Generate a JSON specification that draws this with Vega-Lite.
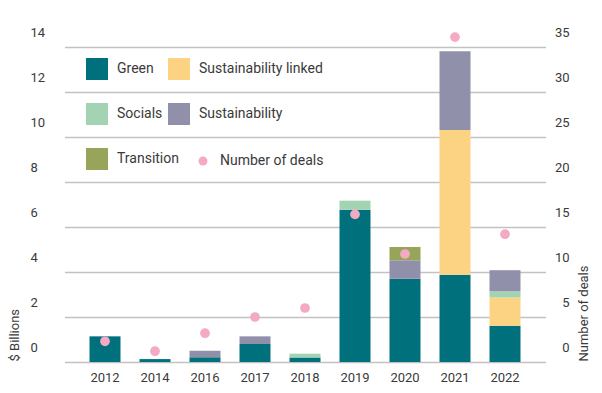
{
  "$schema": "https://vega.github.io/schema/vega-lite/v6.json",
  "autosize": {"type": "none"},
  "width": 541,
  "height": 315,
  "padding": {"left": 27, "top": 47, "right": 34, "bottom": 31},
  "background": "white",
  "config": {
    "view": {"stroke": null},
    "font": "Roboto",
    "axis": {"labelColor": "#3a3a3a", "titleColor": "#3a3a3a", "labelFont": "Roboto", "titleFont": "Roboto", "titleFontWeight": "normal"},
    "legend": {"labelColor": "#3a3a3a", "labelFont": "Roboto"}
  },
  "datasets": {
    "issuance": [
      {"year": "2012", "series": "Green", "k": 1, "value": 1.14},
      {"year": "2014", "series": "Green", "k": 1, "value": 0.13},
      {"year": "2016", "series": "Green", "k": 1, "value": 0.21},
      {"year": "2016", "series": "Sustainability", "k": 4, "value": 0.29},
      {"year": "2017", "series": "Green", "k": 1, "value": 0.8},
      {"year": "2017", "series": "Sustainability", "k": 4, "value": 0.34},
      {"year": "2018", "series": "Green", "k": 1, "value": 0.2},
      {"year": "2018", "series": "Socials", "k": 3, "value": 0.17},
      {"year": "2019", "series": "Green", "k": 1, "value": 6.77},
      {"year": "2019", "series": "Socials", "k": 3, "value": 0.4},
      {"year": "2020", "series": "Green", "k": 1, "value": 3.7},
      {"year": "2020", "series": "Sustainability", "k": 4, "value": 0.82},
      {"year": "2020", "series": "Transition", "k": 5, "value": 0.59},
      {"year": "2021", "series": "Green", "k": 1, "value": 3.88},
      {"year": "2021", "series": "Sustainability linked", "k": 2, "value": 6.43},
      {"year": "2021", "series": "Sustainability", "k": 4, "value": 3.5},
      {"year": "2022", "series": "Green", "k": 1, "value": 1.61},
      {"year": "2022", "series": "Sustainability linked", "k": 2, "value": 1.26},
      {"year": "2022", "series": "Socials", "k": 3, "value": 0.27},
      {"year": "2022", "series": "Sustainability", "k": 4, "value": 0.94}
    ],
    "deals": [
      {"year": "2012", "series": "Number of deals", "deals": 2.3},
      {"year": "2014", "series": "Number of deals", "deals": 1.2},
      {"year": "2016", "series": "Number of deals", "deals": 3.2},
      {"year": "2017", "series": "Number of deals", "deals": 5.0},
      {"year": "2018", "series": "Number of deals", "deals": 6.0},
      {"year": "2019", "series": "Number of deals", "deals": 16.4},
      {"year": "2020", "series": "Number of deals", "deals": 12.0},
      {"year": "2021", "series": "Number of deals", "deals": 36.1},
      {"year": "2022", "series": "Number of deals", "deals": 14.2}
    ]
  },
  "encoding": {
    "x": {
      "field": "year",
      "type": "ordinal",
      "scale": {"range": [37.5, 518.5], "paddingInner": 0.38, "paddingOuter": 0.5, "align": 0.5},
      "axis": {"title": null, "domain": false, "ticks": false, "labelAngle": 0, "labelFontSize": 13, "labelPadding": 9}
    }
  },
  "layer": [
    {
      "data": {"name": "issuance"},
      "mark": {"type": "bar", "strokeWidth": 0},
      "encoding": {
        "y": {
          "field": "value",
          "type": "quantitative",
          "stack": "zero",
          "scale": {"domain": [0, 14], "nice": false},
          "axis": {
            "title": "$ Billions",
            "titleFontSize": 13,
            "titleAngle": -90,
            "titleX": -13,
            "titleY": 314,
            "titleAlign": "left",
            "titleBaseline": "middle",
            "values": [0, 2, 4, 6, 8, 10, 12, 14],
            "domain": false,
            "ticks": false,
            "tickSize": 0,
            "labelAlign": "left",
            "labelPadding": -3,
            "labelBaseline": "middle",
            "labelOffset": -15,
            "labelFontSize": 13,
            "labelOverlap": false,
            "grid": true,
            "gridColor": "#c2c2c2",
            "gridWidth": 1.5
          }
        },
        "fill": {
          "field": "series",
          "type": "nominal",
          "scale": {
            "domain": ["Green", "Socials", "Sustainability linked", "Sustainability", "Transition"],
            "range": ["#00707c", "#a2d3b3", "#fcd283", "#9090aa", "#96a559"]
          },
          "legend": {
            "title": null,
            "values": ["Green", "Socials", "Sustainability linked", "Sustainability"],
            "orient": "none",
            "legendX": 59,
            "legendY": 11,
            "columns": 2,
            "gridAlign": "each",
            "columnPadding": 5,
            "rowPadding": 23,
            "padding": 0,
            "symbolType": "square",
            "symbolSize": 484,
            "symbolStrokeWidth": 0,
            "labelOffset": 9,
            "labelFontSize": 14
          }
        },
        "stroke": {
          "field": "series",
          "type": "nominal",
          "scale": {"domain": ["Transition"], "range": ["#96a559"]},
          "legend": {
            "title": null,
            "values": ["Transition"],
            "orient": "none",
            "legendX": 59,
            "legendY": 101,
            "padding": 0,
            "symbolType": "square",
            "symbolSize": 484,
            "symbolFillColor": "#96a559",
            "symbolStrokeWidth": 0,
            "labelOffset": 9,
            "labelFontSize": 14
          }
        },
        "order": {"field": "k", "type": "quantitative", "sort": "ascending"}
      }
    },
    {
      "data": {"name": "deals"},
      "mark": {"type": "point", "filled": true, "opacity": 1, "size": 95},
      "encoding": {
        "y": {
          "field": "deals",
          "type": "quantitative",
          "scale": {"domain": [0, 35], "nice": false},
          "axis": {
            "orient": "right",
            "title": "Number of deals",
            "titleFontSize": 13,
            "titleAngle": -90,
            "titleX": 15,
            "titleY": 314,
            "titleAlign": "left",
            "titleBaseline": "middle",
            "values": [0, 5, 10, 15, 20, 25, 30, 35],
            "domain": false,
            "ticks": false,
            "tickSize": 0,
            "grid": false,
            "labelAlign": "right",
            "labelPadding": 1,
            "labelBaseline": "middle",
            "labelOffset": -15,
            "labelFontSize": 13,
            "labelOverlap": false
          }
        },
        "color": {
          "field": "series",
          "type": "nominal",
          "scale": {"domain": ["Number of deals"], "range": ["#f4a9c4"]},
          "legend": {
            "title": null,
            "orient": "none",
            "legendX": 169,
            "legendY": 107,
            "padding": 0,
            "symbolType": "circle",
            "symbolSize": 80,
            "symbolStrokeWidth": 0,
            "labelOffset": 10,
            "labelFontSize": 14
          }
        }
      }
    }
  ],
  "resolve": {"scale": {"y": "independent", "color": "independent"}}
}
